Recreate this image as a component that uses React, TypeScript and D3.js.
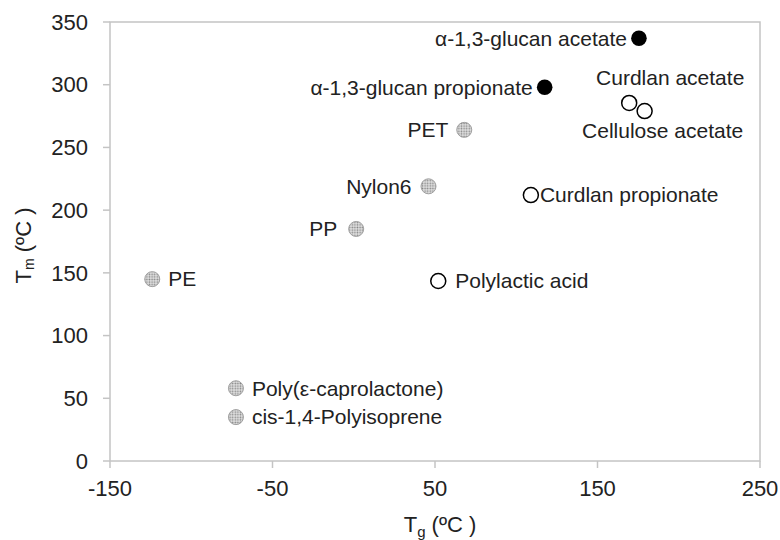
import React from "react";
import * as d3 from "d3";

const names = [
  "α-1,3-glucan acetate",
  "α-1,3-glucan propionate",
  "Curdlan acetate",
  "Cellulose acetate",
  "PET",
  "Nylon6",
  "Curdlan propionate",
  "PP",
  "PE",
  "Polylactic acid",
  "Poly(ε-caprolactone)",
  "cis-1,4-Polyisoprene",
];
const tgValues = [175.5, 117.5, 169.5, 179, 68, 46, 109, 1.5, -124, 52, -72.5, -72.5];
const tmValues = [337, 298, 285.5, 279, 264, 219, 212, 185, 145, 143.5, 58, 35];
const kinds = ["filled", "filled", "open", "open", "dotted", "dotted", "open", "dotted", "dotted", "open", "dotted", "dotted"];

const xTicks = [-150, -50, 50, 150, 250];
const yTicks = [0, 50, 100, 150, 200, 250, 300, 350];

// label placement: anchor + offset (styling)
const labelPlace: [string, number, number][] = [
  ["end", -12, 0],
  ["end", -12, 0],
  ["middle", 41, -25],
  ["middle", 18, 20],
  ["end", -16, 0],
  ["end", -17, 0],
  ["start", 9, 0],
  ["end", -19, 0],
  ["start", 16, 0],
  ["start", 17, 0],
  ["start", 16, 0],
  ["start", 16, 0],
];

const W = 780;
const H = 540;
const M = { left: 110, right: 20, top: 22, bottom: 79 };

export default function App() {
  const x = d3.scaleLinear().domain([-150, 250]).range([M.left, W - M.right]);
  const y = d3.scaleLinear().domain([0, 350]).range([H - M.bottom, M.top]);
  const axisColor = "#c4c4c4";
  const font = "Liberation Sans, Arial, sans-serif";
  const textColor = "#222";

  return (
    <svg width={W} height={H} style={{ position: "absolute", left: 0, top: 0, background: "#fff" }}>
      <defs>
        <pattern id="dots" width="2.6" height="2.6" patternUnits="userSpaceOnUse">
          <rect width="2.6" height="2.6" fill="#e2e2e2" />
          <circle cx="1.3" cy="1.3" r="0.85" fill="#868686" />
        </pattern>
      </defs>
      {/* frame */}
      <rect
        x={x(-150)}
        y={y(350)}
        width={x(250) - x(-150)}
        height={y(0) - y(350)}
        fill="none"
        stroke={axisColor}
        strokeWidth={1.5}
      />
      {/* y ticks */}
      {yTicks.map((t) => (
        <g key={"y" + t}>
          <line x1={x(-150) - 7} x2={x(-150)} y1={y(t)} y2={y(t)} stroke={axisColor} strokeWidth={1.5} />
          <text x={x(-150) - 22} y={y(t)} dy="0.35em" textAnchor="end" fontFamily={font} fontSize={22} fill={textColor}>
            {t}
          </text>
        </g>
      ))}
      {/* x ticks */}
      {xTicks.map((t) => (
        <g key={"x" + t}>
          <line x1={x(t)} x2={x(t)} y1={y(0)} y2={y(0) + 7} stroke={axisColor} strokeWidth={1.5} />
          <text x={x(t)} y={y(0) + 35} textAnchor="middle" fontFamily={font} fontSize={22} fill={textColor}>
            {t}
          </text>
        </g>
      ))}
      {/* axis titles */}
      <text x={(x(-150) + x(250)) / 2 + 5} y={532} textAnchor="middle" fontFamily={font} fontSize={22} fill={textColor}>
        T<tspan fontSize={15} dy={5}>g</tspan>
        <tspan dy={-5}> (ºC )</tspan>
      </text>
      <text
        transform={`translate(31, ${(y(0) + y(350)) / 2 + 4}) rotate(-90)`}
        textAnchor="middle"
        fontFamily={font}
        fontSize={22}
        fill={textColor}
      >
        T<tspan fontSize={14} dy={3}>m</tspan>
        <tspan dy={-3}> (ºC )</tspan>
      </text>
      {/* points */}
      {names.map((n, i) => {
        const cx = x(tgValues[i]);
        const cy = y(tmValues[i]);
        const k = kinds[i];
        const [anchor, dx, dy] = labelPlace[i];
        return (
          <g key={n}>
            {k === "filled" && <circle cx={cx} cy={cy} r={7.8} fill="#000" />}
            {k === "open" && <circle cx={cx} cy={cy} r={7.5} fill="#fff" stroke="#000" strokeWidth={1.5} />}
            {k === "dotted" && <circle cx={cx} cy={cy} r={7.5} fill="url(#dots)" stroke="#a0a0a0" strokeWidth={1} />}
            <text
              x={cx + dx}
              y={cy + dy}
              dy="0.35em"
              textAnchor={anchor}
              fontFamily={font}
              fontSize={21}
              fill={textColor}
            >
              {n}
            </text>
          </g>
        );
      })}
    </svg>
  );
}
